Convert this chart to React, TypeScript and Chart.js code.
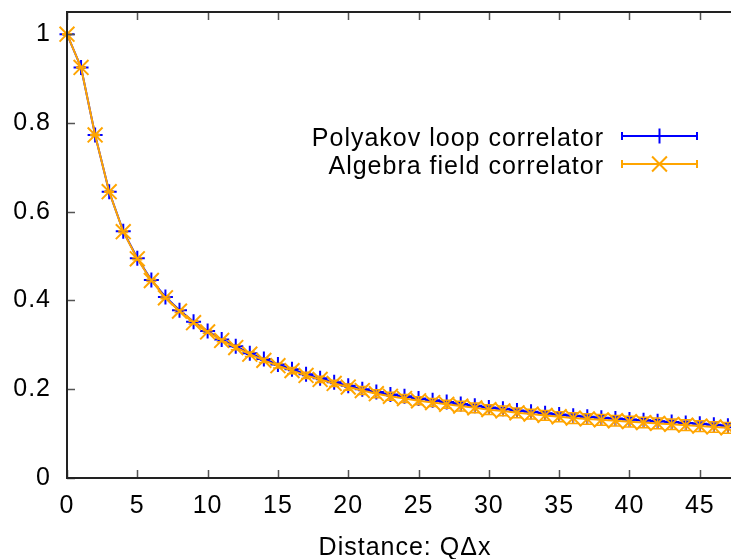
import React, { useEffect, useRef } from 'react';
import { Chart, registerables } from 'chart.js';

Chart.register(...registerables);

const distances = [0, 1, 2, 3, 4, 5, 6, 7, 8, 9, 10, 11, 12, 13, 14, 15, 16, 17, 18, 19, 20, 21, 22, 23, 24, 25, 26, 27, 28, 29, 30, 31, 32, 33, 34, 35, 36, 37, 38, 39, 40, 41, 42, 43, 44, 45, 46, 47];

const polyakov = [1.0, 0.925, 0.773, 0.645, 0.556, 0.495, 0.446, 0.408, 0.378, 0.352, 0.331, 0.312, 0.297, 0.281, 0.268, 0.256, 0.245, 0.234, 0.225, 0.216, 0.208, 0.2, 0.194, 0.188, 0.184, 0.179, 0.175, 0.171, 0.167, 0.163, 0.159, 0.156, 0.152, 0.149, 0.146, 0.143, 0.14, 0.138, 0.136, 0.134, 0.132, 0.13, 0.128, 0.126, 0.124, 0.122, 0.12, 0.118];
const polyakovErr = [0.001, 0.001, 0.001, 0.001, 0.001, 0.002, 0.002, 0.002, 0.002, 0.002, 0.002, 0.002, 0.002, 0.002, 0.002, 0.002, 0.003, 0.003, 0.003, 0.003, 0.003, 0.003, 0.003, 0.003, 0.003, 0.003, 0.003, 0.003, 0.003, 0.003, 0.003, 0.003, 0.004, 0.004, 0.004, 0.004, 0.004, 0.004, 0.004, 0.004, 0.004, 0.004, 0.004, 0.004, 0.004, 0.004, 0.004, 0.004];

const algebra = [1.0, 0.925, 0.773, 0.645, 0.555, 0.494, 0.445, 0.406, 0.376, 0.35, 0.329, 0.31, 0.294, 0.279, 0.265, 0.253, 0.242, 0.231, 0.222, 0.213, 0.205, 0.197, 0.19, 0.184, 0.179, 0.174, 0.17, 0.166, 0.162, 0.158, 0.154, 0.151, 0.147, 0.144, 0.141, 0.138, 0.135, 0.133, 0.131, 0.129, 0.127, 0.125, 0.123, 0.121, 0.119, 0.117, 0.115, 0.113];
const algebraErr = [0.001, 0.001, 0.001, 0.001, 0.002, 0.002, 0.002, 0.002, 0.003, 0.003, 0.003, 0.003, 0.005, 0.005, 0.005, 0.005, 0.007, 0.007, 0.007, 0.007, 0.007, 0.009, 0.009, 0.009, 0.009, 0.009, 0.009, 0.009, 0.011, 0.011, 0.011, 0.011, 0.011, 0.011, 0.011, 0.011, 0.012, 0.012, 0.012, 0.012, 0.012, 0.012, 0.012, 0.012, 0.012, 0.012, 0.012, 0.012];

const xTicks = [0, 5, 10, 15, 20, 25, 30, 35, 40, 45];
const yTicks = [0, 0.2, 0.4, 0.6, 0.8, 1];
const seriesLabels = ['Polyakov loop correlator', 'Algebra field correlator'];
const xTitle = 'Distance: Q\u0394x';

const FONT = "'Liberation Sans', Arial, sans-serif";
const FSIZE = 25;
const SPACING = '1px';
const BLUE = '#0000ff';
const ORANGE = '#ffa500';

const spacingPlugin = {
  id: 'spacing',
  beforeDraw(chart: any) {
    (chart.ctx as any).letterSpacing = SPACING;
  },
};

const errorBarPlugin = {
  id: 'errorBars',
  afterDatasetDraw(chart: any, args: any) {
    const ds = chart.data.datasets[args.index];
    const errs: number[] = ds.errors;
    if (!errs) return;
    const xs = chart.scales.x;
    const ys = chart.scales.y;
    const ctx = chart.ctx;
    const cap = ds.capWidth;
    ctx.save();
    ctx.strokeStyle = ds.borderColor;
    ctx.lineWidth = 1.5;
    ctx.beginPath();
    ds.data.forEach((p: any, i: number) => {
      const px = xs.getPixelForValue(p.x);
      const lo = ys.getPixelForValue(p.y - errs[i]);
      const hi = ys.getPixelForValue(p.y + errs[i]);
      ctx.moveTo(px, lo);
      ctx.lineTo(px, hi);
      ctx.moveTo(px - cap, lo);
      ctx.lineTo(px + cap, lo);
      ctx.moveTo(px - cap, hi);
      ctx.lineTo(px + cap, hi);
    });
    ctx.stroke();
    ctx.restore();
  },
};

const framePlugin = {
  id: 'frame',
  afterDatasetsDraw(chart: any) {
    const { ctx, chartArea } = chart;
    const xs = chart.scales.x;
    const ys = chart.scales.y;
    const { left, top, right, bottom } = chartArea;
    ctx.save();
    ctx.strokeStyle = '#555';
    ctx.lineWidth = 1.5;
    ctx.beginPath();
    xTicks.forEach((v) => {
      const px = Math.round(xs.getPixelForValue(v)) + 0.5;
      ctx.moveTo(px, bottom);
      ctx.lineTo(px, bottom - 8);
      ctx.moveTo(px, top);
      ctx.lineTo(px, top + 8);
    });
    yTicks.forEach((v) => {
      const py = Math.round(ys.getPixelForValue(v)) + 0.5;
      ctx.moveTo(left, py);
      ctx.lineTo(left + 8, py);
    });
    ctx.stroke();
    ctx.strokeStyle = '#222';
    ctx.lineWidth = 2;
    ctx.beginPath();
    ctx.moveTo(right + 5, top);
    ctx.lineTo(left, top);
    ctx.lineTo(left, bottom);
    ctx.lineTo(right + 5, bottom);
    ctx.stroke();
    ctx.restore();
  },
  afterDraw(chart: any) {
    const ctx = chart.ctx;
    const xs = chart.scales.x;
    ctx.save();
    (ctx as any).letterSpacing = SPACING;
    ctx.font = `${FSIZE}px ${FONT}`;
    ctx.fillStyle = '#000';
    // axis title, centred on the middle of gnuplot's 0..48 range
    ctx.textAlign = 'center';
    ctx.textBaseline = 'alphabetic';
    ctx.fillText(xTitle, xs.getPixelForValue(24) + 0.5, 555);

    const rows = [
      { label: seriesLabels[0], color: BLUE, style: 'cross', r: 7.5, base: 146, ly: 136 },
      { label: seriesLabels[1], color: ORANGE, style: 'crossRot', r: 10.5, base: 174, ly: 164 },
    ];
    ctx.textAlign = 'right';
    rows.forEach((r) => {
      ctx.fillText(r.label, 604, r.base);
      ctx.strokeStyle = r.color;
      ctx.lineWidth = 2;
      ctx.beginPath();
      ctx.moveTo(622, r.ly);
      ctx.lineTo(697, r.ly);
      ctx.moveTo(622, r.ly - 4);
      ctx.lineTo(622, r.ly + 4);
      ctx.moveTo(697, r.ly - 4);
      ctx.lineTo(697, r.ly + 4);
      ctx.stroke();
      ctx.beginPath();
      if (r.style === 'cross') {
        ctx.moveTo(659.5, r.ly - r.r);
        ctx.lineTo(659.5, r.ly + r.r);
      } else {
        const d = r.r * Math.SQRT1_2;
        ctx.moveTo(659.5 - d, r.ly - d);
        ctx.lineTo(659.5 + d, r.ly + d);
        ctx.moveTo(659.5 + d, r.ly - d);
        ctx.lineTo(659.5 - d, r.ly + d);
      }
      ctx.stroke();
    });
    ctx.restore();
  },
};

export default function App() {
  const canvasRef = useRef<HTMLCanvasElement | null>(null);

  useEffect(() => {
    const canvas = canvasRef.current;
    if (!canvas) return;
    const chart = new Chart(canvas, {
      type: 'line',
      data: {
        datasets: [
          {
            label: seriesLabels[0],
            data: distances.map((d, i) => ({ x: d, y: polyakov[i] })),
            borderColor: BLUE,
            backgroundColor: BLUE,
            borderWidth: 2,
            pointStyle: 'cross',
            pointRadius: 7.5,
            pointBorderWidth: 2,
            pointBorderColor: BLUE,
            clip: false,
            order: 2,
            errors: polyakovErr,
            capWidth: 4,
          } as any,
          {
            label: seriesLabels[1],
            data: distances.map((d, i) => ({ x: d, y: algebra[i] })),
            borderColor: ORANGE,
            backgroundColor: ORANGE,
            borderWidth: 2,
            pointStyle: 'crossRot',
            pointRadius: 10.5,
            pointBorderWidth: 2,
            pointBorderColor: ORANGE,
            clip: false,
            order: 1,
            errors: algebraErr,
            capWidth: 5,
          } as any,
        ],
      },
      options: {
        animation: false,
        responsive: true,
        maintainAspectRatio: false,
        devicePixelRatio: 1,
        layout: { autoPadding: false, padding: { top: 12, left: 0, right: 0, bottom: 0 } },
        plugins: { legend: { display: false }, tooltip: { enabled: false } },
        scales: {
          x: {
            type: 'linear',
            min: 0,
            max: 47.22,
            grid: { display: false, drawTicks: false },
            border: { display: false },
            afterBuildTicks: (s: any) => {
              s.ticks = xTicks.map((v) => ({ value: v }));
            },
            afterFit: (s: any) => {
              s.height = 81;
              s.paddingLeft = 0;
              s.paddingRight = 0;
            },
            ticks: {
              font: { family: FONT, size: FSIZE },
              color: '#000',
              padding: 13.5,
              maxRotation: 0,
              autoSkip: false,
              callback: (v: any) => String(v),
            },
            title: { display: false },
          },
          y: {
            type: 'linear',
            min: 0,
            max: 1.05,
            grid: { display: false, drawTicks: false },
            border: { display: false },
            afterBuildTicks: (s: any) => {
              s.ticks = yTicks.map((v) => ({ value: v }));
            },
            afterFit: (s: any) => {
              s.width = 67;
              s.paddingTop = 0;
              s.paddingBottom = 0;
            },
            ticks: {
              font: { family: FONT, size: FSIZE },
              color: '#000',
              padding: 16,
              autoSkip: false,
              callback: (v: any) => String(Number(Number(v).toFixed(1))),
            },
          },
        },
      } as any,
      plugins: [spacingPlugin, errorBarPlugin, framePlugin],
    });
    return () => chart.destroy();
  }, []);

  return (
    <div style={{ position: 'fixed', left: 0, top: 0, width: 731, height: 559, overflow: 'hidden', background: '#fff' }}>
      <div style={{ position: 'relative', width: 731, height: 559 }}>
        <canvas ref={canvasRef} />
      </div>
    </div>
  );
}
